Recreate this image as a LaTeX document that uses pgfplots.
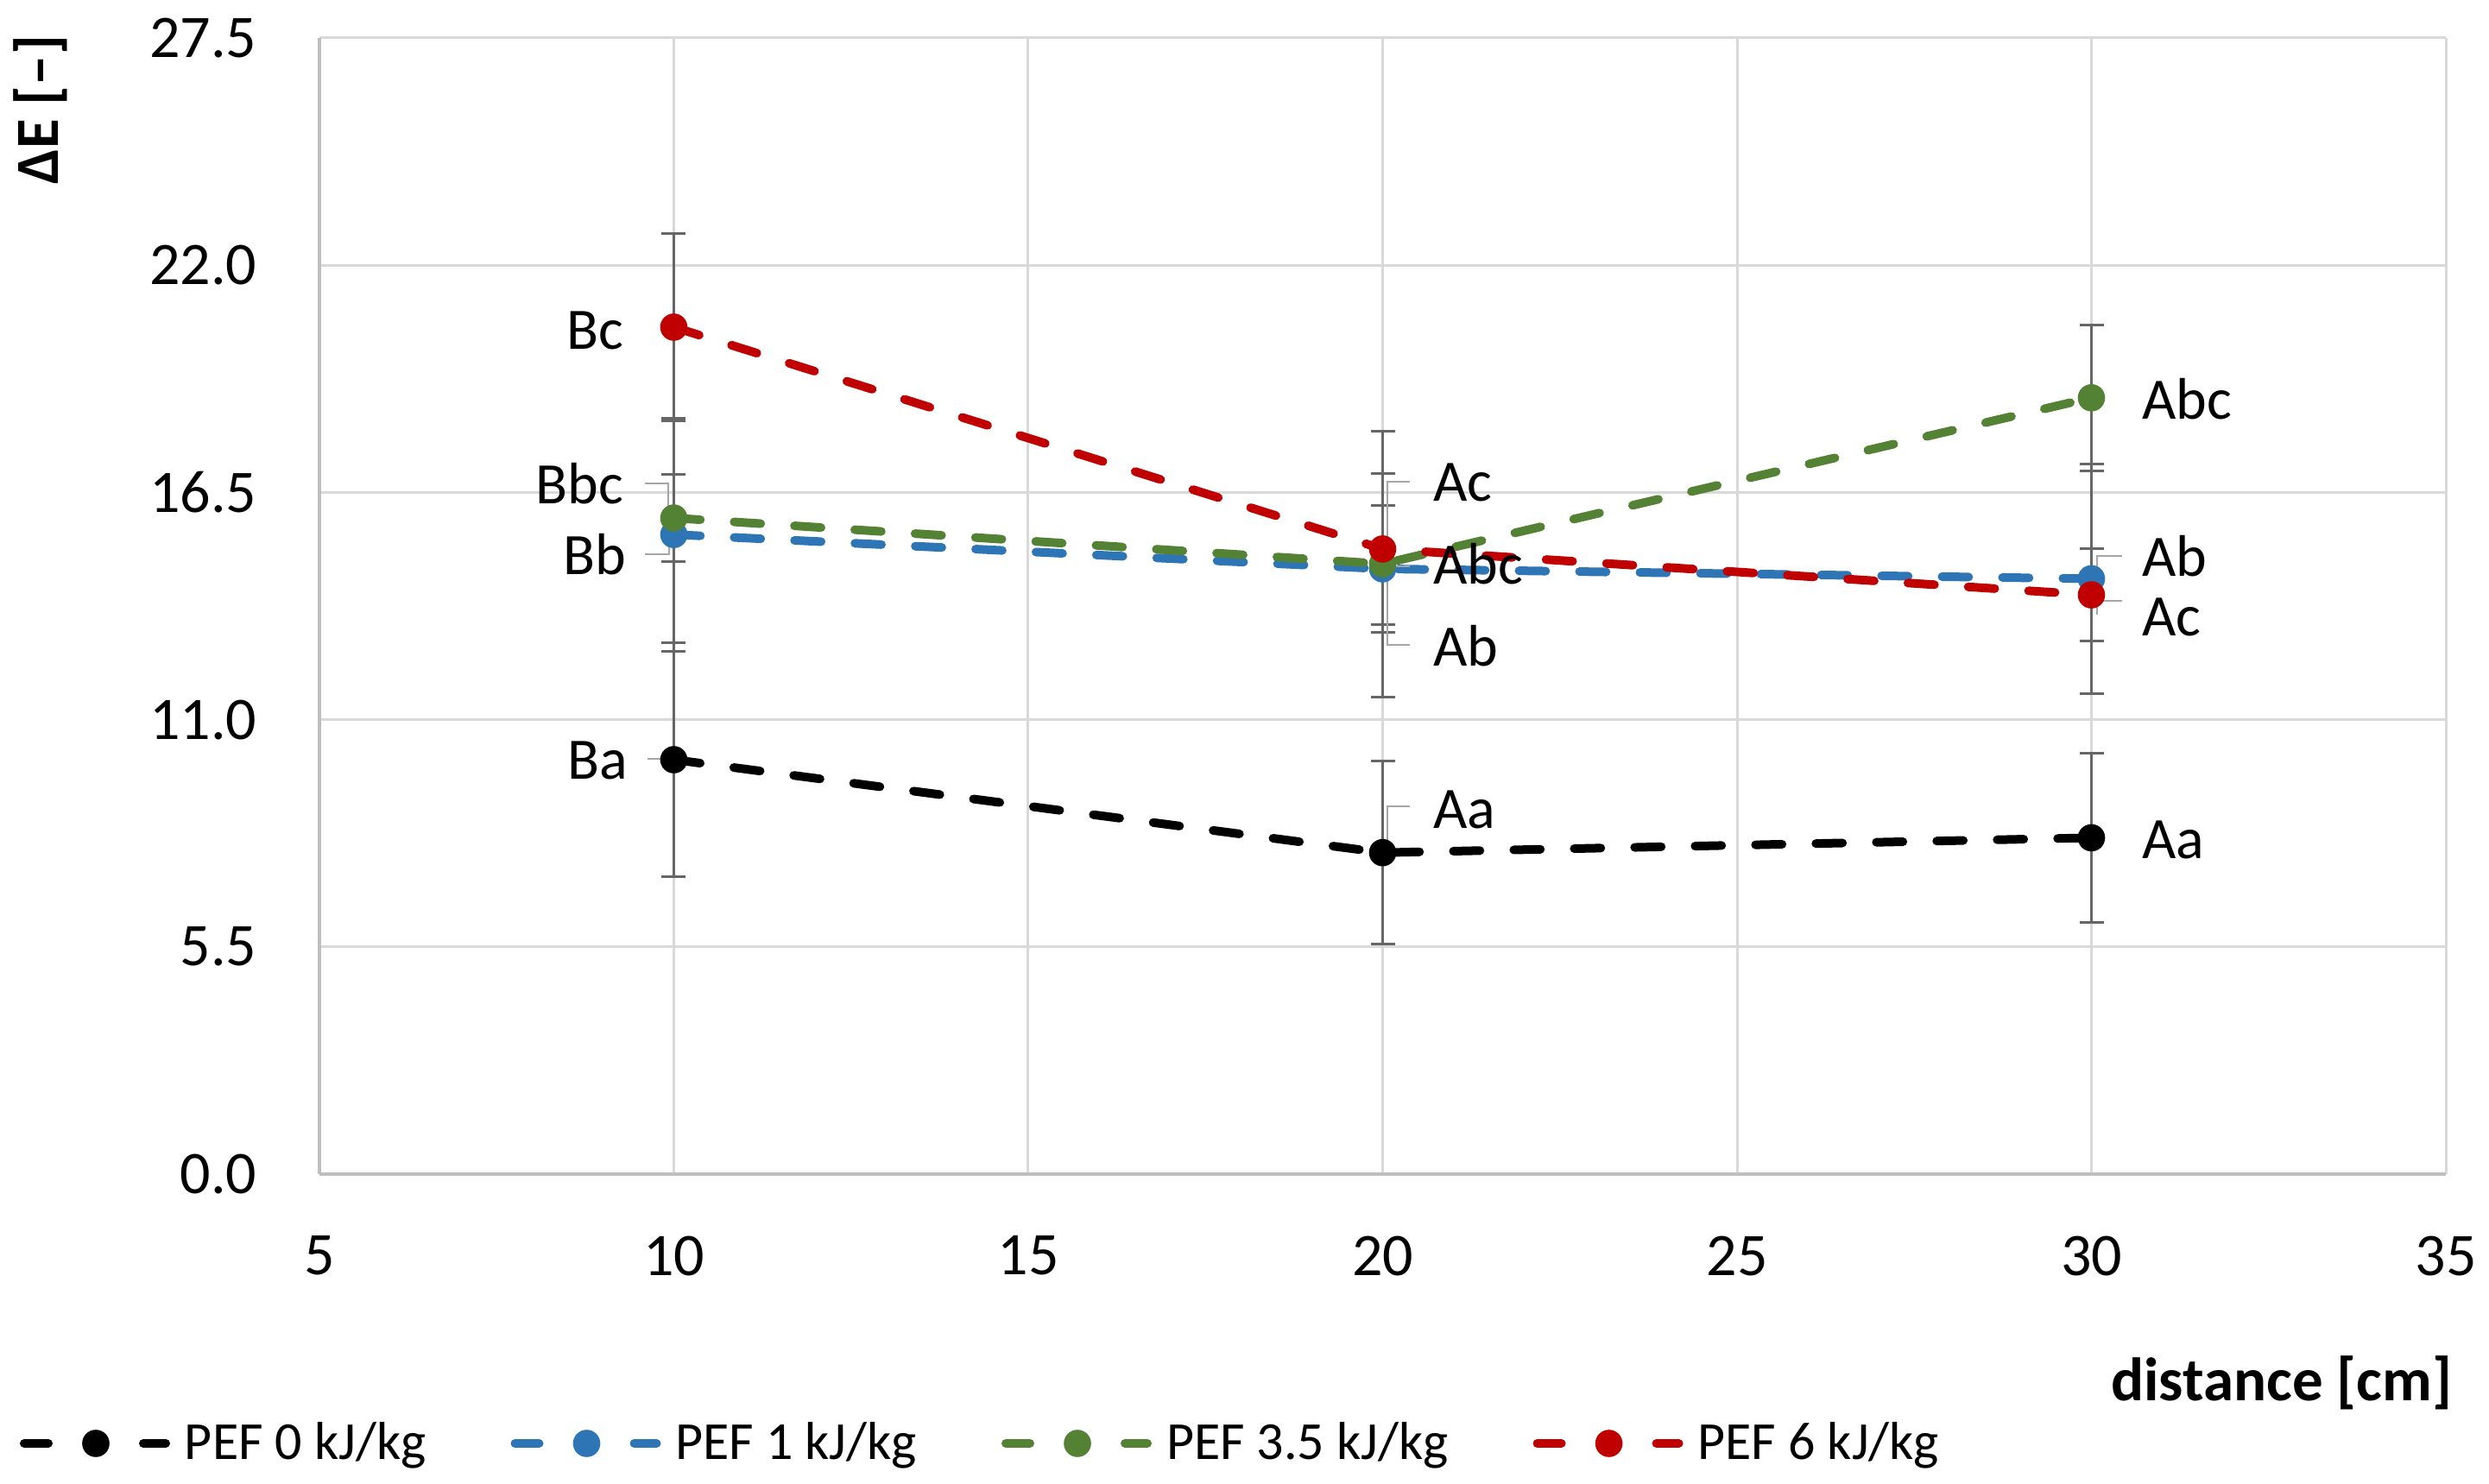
\documentclass[border=0pt]{standalone}
\usepackage{fontspec}
\setmainfont{Carlito}
\usepackage{pgfplots}
\pgfplotsset{compat=1.18}
\definecolor{sblack}{HTML}{000000}
\definecolor{sblue}{HTML}{2E75B6}
\definecolor{sgreen}{HTML}{548235}
\definecolor{sred}{HTML}{C00000}
\definecolor{gridgray}{HTML}{D9D9D9}
\definecolor{axgray}{HTML}{BFBFBF}
\definecolor{errgray}{HTML}{666666}
\definecolor{leadgray}{HTML}{A6A6A6}
\pgfplotsset{
  ser/.style={color=#1, line width=2.5pt, dash pattern=on 7.7pt off 9.8pt, line cap=round, line join=round,
    mark=*, mark size=3.6pt, mark options={solid, fill=#1, draw=#1, line width=0.7pt},
    error bars/.cd, y dir=both, y explicit,
    error bar style={errgray, line width=0.75pt, solid},
    error mark options={errgray, line width=0.75pt, solid, rotate=90, mark size=3.5pt}},
}
\begin{document}
\begin{tikzpicture}
\begin{axis}[
  scale only axis, width=615.75pt, height=329pt,
  xmin=5, xmax=35, ymin=0, ymax=27.5, enlargelimits=false,
  xtick={5,10,...,35}, ytick={0,5.5,11,16.5,22,27.5},
  grid=major, major grid style={draw=gridgray, line width=0.75pt},
  axis lines*=left, axis line style={-, draw=axgray, line width=0.8pt},
  x axis line style={-}, y axis line style={-},
  major tick length=0pt,
  /pgf/number format/assume math mode=true,
  tick label style={font=\fontsize{17.5}{21}\selectfont, inner sep=0pt},
  yticklabel style={anchor=east, xshift=-18pt, /pgf/number format/.cd, fixed, fixed zerofill, precision=1},
  xticklabel style={anchor=north, yshift=-17.75pt},
  legend columns=4,
  legend cell align=left,
  legend style={at={(rel axis cs:0,0)}, anchor=west, xshift=-86.75pt, yshift=-78pt,
    draw=none, fill=none, inner sep=0pt, outer sep=0pt,
    font=\fontsize{15.5}{18}\selectfont,
    /tikz/every odd column/.append style={column sep=4.25pt},
    /tikz/every even column/.append style={column sep=24.5pt},
    nodes={inner sep=0pt}},
  legend image code/.code={
    \draw[#1, mark=none, solid, line cap=round] (1.25pt,0pt) -- (8.25pt,0pt);
    \draw[#1, mark=none, solid, line cap=round] (35.75pt,0pt) -- (42.25pt,0pt);
    \draw[#1] plot coordinates {(22pt,0pt)};
  },
]
\addplot[ser=sblack] coordinates {(10,10.03) +- (0,2.83) (20,7.78) +- (0,2.22) (30,8.14) +- (0,2.04)};
\addlegendentry{PEF 0 kJ/kg}
\addplot[ser=sblue] coordinates {(10,15.48) +- (0,2.82) (20,14.65) +- (0,1.53) (30,14.41) +- (0,2.78)};
\addlegendentry{PEF 1 kJ/kg}
\addplot[ser=sgreen] coordinates {(10,15.88) +- (0,1.05) (20,14.77) +- (0,3.22) (30,18.79) +- (0,1.77)};
\addlegendentry{PEF 3.5 kJ/kg}
\addplot[ser=sred] coordinates {(10,20.50) +- (0,2.27) (20,15.13) +- (0,1.82) (30,14.02) +- (0,1.12)};
\addlegendentry{PEF 6 kJ/kg}

% leader lines
\draw[leadgray, line width=0.6pt] (axis cs:9.59,16.72) -- (axis cs:9.92,16.72) -- (axis cs:9.92,15.96);
\draw[leadgray, line width=0.6pt] (axis cs:9.59,15.00) -- (axis cs:9.93,15.00) -- (axis cs:9.93,15.46);
\draw[leadgray, line width=0.6pt] (axis cs:9.63,10.05) -- (axis cs:9.97,10.05);
\draw[leadgray, line width=0.6pt] (axis cs:20.38,16.76) -- (axis cs:20.07,16.76) -- (axis cs:20.07,15.15);
\draw[leadgray, line width=0.6pt] (axis cs:20.07,14.71) -- (axis cs:20.38,14.71);
\draw[leadgray, line width=0.6pt] (axis cs:20.07,14.48) -- (axis cs:20.07,12.81) -- (axis cs:20.38,12.81);
\draw[leadgray, line width=0.6pt] (axis cs:20.07,7.79) -- (axis cs:20.07,8.90) -- (axis cs:20.38,8.90);
\draw[leadgray, line width=0.6pt] (axis cs:30.43,14.96) -- (axis cs:30.08,14.96) -- (axis cs:30.08,14.48);
\draw[leadgray, line width=0.6pt] (axis cs:30.08,13.54) -- (axis cs:30.08,13.87) -- (axis cs:30.43,13.87);

% data labels
\begin{scope}[every node/.style={inner sep=0pt, font=\fontsize{17}{20}\selectfont}]
\node[anchor=base east] at (axis cs:9.30,19.97) {Bc};
\node[anchor=base east] at (axis cs:9.30,16.22) {Bbc};
\node[anchor=base east] at (axis cs:9.34,14.52) {Bb};
\node[anchor=base east] at (axis cs:9.36,9.55) {Ba};
\node[anchor=base west] at (axis cs:20.71,16.28) {Ac};
\node[anchor=base west] at (axis cs:20.71,14.29) {Abc};
\node[anchor=base west] at (axis cs:20.71,12.29) {Ab};
\node[anchor=base west] at (axis cs:20.71,8.36) {Aa};
\node[anchor=base west] at (axis cs:30.71,18.28) {Abc};
\node[anchor=base west] at (axis cs:30.71,14.48) {Ab};
\node[anchor=base west] at (axis cs:30.71,13.02) {Ac};
\node[anchor=base west] at (axis cs:30.71,7.63) {Aa};
\end{scope}
\end{axis}
\node[rotate=90, anchor=base east, inner sep=0pt, font=\fontsize{17.75}{21}\selectfont\bfseries] at (-75.5pt,330pt) {ΔE [–]};
\node[anchor=base east, inner sep=0pt, font=\fontsize{17.75}{21}\selectfont\bfseries] at (617.75pt,-65.75pt) {distance [cm]};
\pgfresetboundingbox
\path[use as bounding box] (-92.5pt,-89.75pt) rectangle (628.25pt,340pt);
\end{tikzpicture}
\end{document}
